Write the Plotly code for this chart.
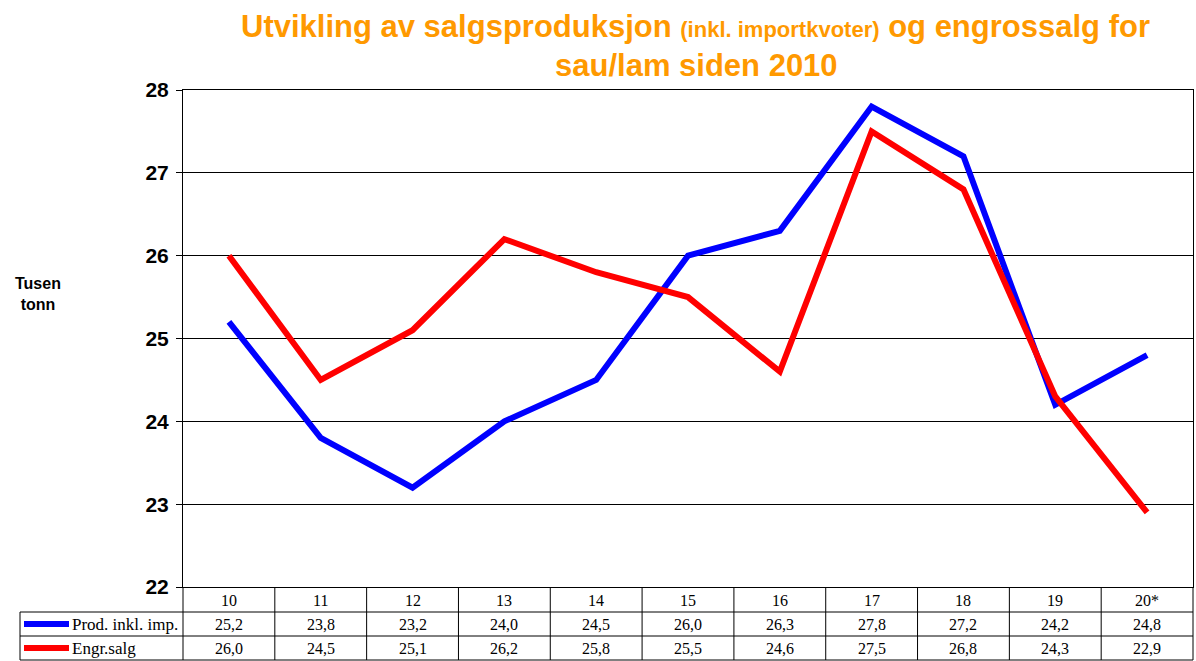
import plotly.graph_objects as go

categories = ["10", "11", "12", "13", "14", "15", "16", "17", "18", "19", "20*"]
prod = [25.2, 23.8, 23.2, 24.0, 24.5, 26.0, 26.3, 27.8, 27.2, 24.2, 24.8]
engr = [26.0, 24.5, 25.1, 26.2, 25.8, 25.5, 24.6, 27.5, 26.8, 24.3, 22.9]
series_names = ["Prod. inkl. imp.", "Engr.salg"]
series_colors = ["#0000FF", "#FF0000"]

W, H = 1196, 661
ML, MR, MT, MB = 183, 3, 90, 74
plot_h = H - MT - MB
plot_w = W - ML - MR

def py(pix):  # pixel row -> paper y
    return (H - MB - pix) / plot_h

def px(pix):  # pixel column -> paper x
    return (pix - ML) / plot_w

n = len(categories)
xs = list(range(n))

fig = go.Figure()
for name, vals, col in zip(series_names, [prod, engr], series_colors):
    fig.add_trace(go.Scatter(x=xs, y=vals, mode="lines", name=name,
                             line=dict(color=col, width=6), showlegend=False))

shapes = []
ann = []
row_lines = [py(612), py(636), py(660)]
left_x = px(20)
for yv in row_lines:
    shapes.append(dict(type="line", xref="paper", yref="paper",
                       x0=left_x, x1=1, y0=yv, y1=yv,
                       line=dict(color="black", width=1)))
for k in range(n + 1):
    shapes.append(dict(type="line", xref="paper", yref="paper",
                       x0=k / n, x1=k / n, y0=0, y1=row_lines[-1],
                       line=dict(color="black", width=1)))
shapes.append(dict(type="line", xref="paper", yref="paper",
                   x0=left_x, x1=left_x, y0=row_lines[0], y1=row_lines[-1],
                   line=dict(color="black", width=1)))

cell_font = dict(family="Liberation Serif", size=16, color="black")
label_font = dict(family="Liberation Serif", size=17, color="black")
row_centers = [py(600), py(624), py(648)]
for i, c in enumerate(categories):
    for r, txt in enumerate([c, f"{prod[i]:.1f}".replace(".", ","),
                             f"{engr[i]:.1f}".replace(".", ",")]):
        ann.append(dict(x=i, y=row_centers[r], xref="x", yref="paper", text=txt,
                        showarrow=False, xanchor="center", yanchor="middle",
                        font=cell_font))

for j, (name, col) in enumerate(zip(series_names, series_colors)):
    yc = row_centers[j + 1]
    shapes.append(dict(type="line", xref="paper", yref="paper",
                       x0=px(24), x1=px(69), y0=yc, y1=yc,
                       line=dict(color=col, width=6)))
    ann.append(dict(x=px(70), y=yc, xref="paper", yref="paper",
                    text=name, showarrow=False, xanchor="left", yanchor="middle",
                    font=label_font))

ann.append(dict(x=px(38), y=py(294), xref="paper", yref="paper",
                text="<b>Tusen<br>tonn</b>", showarrow=False, align="center",
                xanchor="center", yanchor="middle",
                font=dict(family="Liberation Sans", size=16, color="black")))

title_font = dict(family="Liberation Sans", size=31, color="#FF9900")
ann.append(dict(x=px(695), y=py(27), xref="paper", yref="paper",
                text=("<b>Utvikling av salgsproduksjon <span style='font-size:22px'>"
                      "(inkl. importkvoter)</span> og engrossalg for</b>"),
                showarrow=False, xanchor="center", yanchor="middle", font=title_font))
ann.append(dict(x=px(696), y=py(66), xref="paper", yref="paper",
                text="<b>sau/lam siden 2010</b>",
                showarrow=False, xanchor="center", yanchor="middle", font=title_font))

fig.update_layout(
    width=W, height=H,
    margin=dict(l=ML, r=MR, t=MT, b=MB),
    paper_bgcolor="white", plot_bgcolor="white",
    xaxis=dict(range=[-0.5, n - 0.5], showticklabels=False, showgrid=False,
               zeroline=False, showline=True, linecolor="black", mirror=True,
               ticks=""),
    yaxis=dict(range=[22, 28], dtick=1, showgrid=True, gridcolor="black",
               gridwidth=1, zeroline=False, showline=True, linecolor="black",
               mirror=True, ticks="outside", ticklen=6, tickcolor="black",
               tickfont=dict(family="Liberation Sans", size=21, color="black"),
               tickprefix="<b>", ticksuffix="</b>", ticklabelstandoff=3),
    shapes=shapes, annotations=ann,
)
fig.write_html("out.html", config={"displayModeBar": False},
               post_script="document.body.style.margin='0';")
